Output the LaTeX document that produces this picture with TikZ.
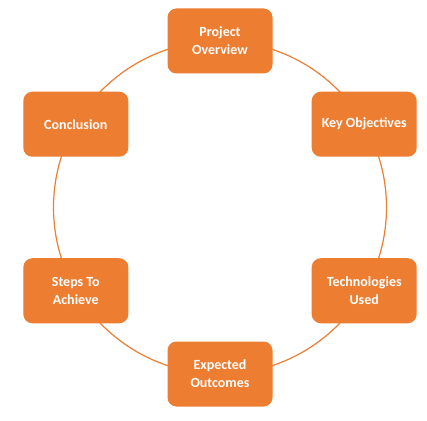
\documentclass[tikz,border=0pt]{standalone}
\usepackage{fontspec}
\setmainfont{Carlito}
\definecolor{naranja}{HTML}{ED7D31}
\begin{document}
\begin{tikzpicture}[x=1pt, y=1pt,
    caja/.style={fill=naranja, rounded corners=9pt, minimum width=105pt,
      minimum height=65pt, align=center, text=white,
      font=\fontsize{14}{18}\selectfont\bfseries}]
    \useasboundingbox (0,0) rectangle (427,420);

    % Circulo de fondo
    \coordinate (O) at (220,212.5);
    \draw[naranja, line width=1.2pt] (O) circle (166.5);

    % Cajas alrededor del circulo
    \node[caja] (po) at ([shift={(90:166.5)}]O) {Project\\Overview};
    \node[caja] (ko) at ([shift={(30:166.5)}]O) {Key Objectives};
    \node[caja] (tu) at ([shift={(-30:166.5)}]O) {Technologies\\Used};
    \node[caja] (eo) at ([shift={(-90:166.5)}]O) {Expected\\Outcomes};
    \node[caja] (sa) at ([shift={(-150:166.5)}]O) {Steps To\\Achieve};
    \node[caja] (co) at ([shift={(150:166.5)}]O) {Conclusion};
\end{tikzpicture}
\end{document}
